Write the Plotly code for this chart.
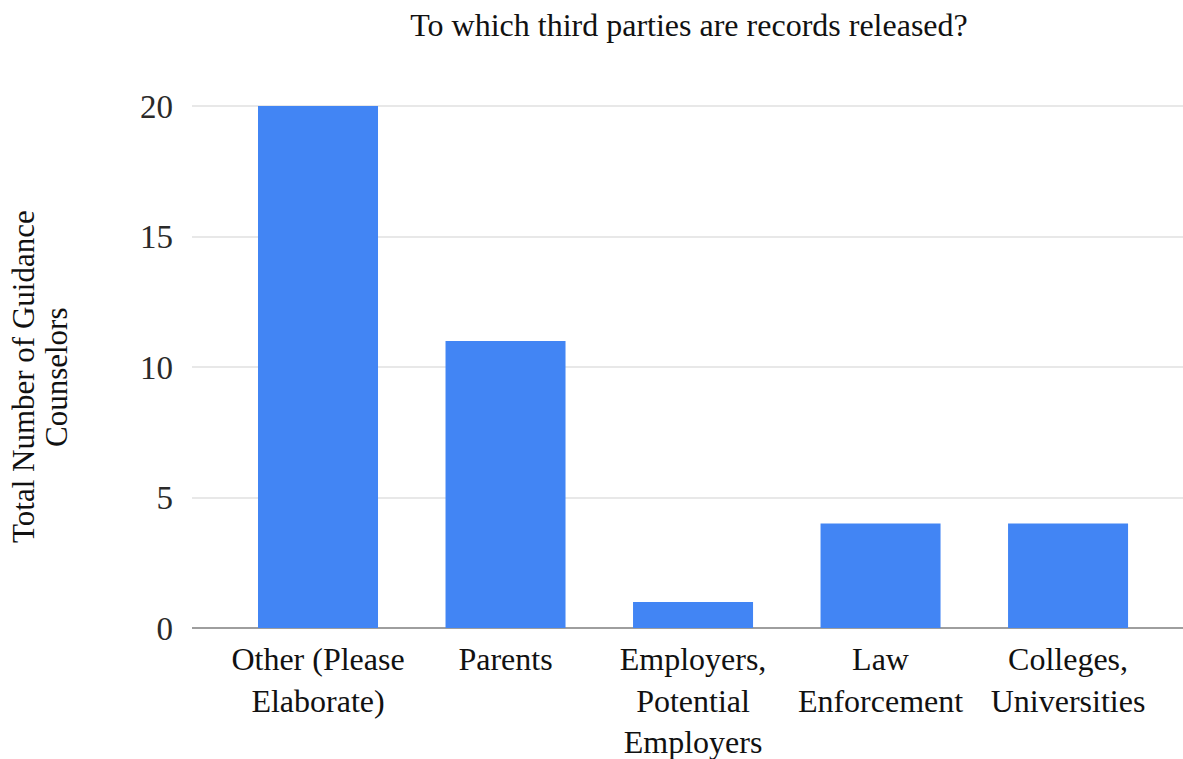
import plotly.graph_objects as go

# Survey responses: which third parties receive student records
categories = ["Other", "Parents", "Employers", "Law Enforcement", "Colleges"]
tick_labels = [
    "Other (Please<br>Elaborate)",
    "Parents",
    "Employers,<br>Potential<br>Employers",
    "Law<br>Enforcement",
    "Colleges,<br>Universities",
]
counselors = [20, 11, 1, 4, 4]
y_ticks = [0, 5, 10, 15, 20]

SERIF = "Liberation Serif"
W, H = 1183, 759
L, R, T, B = 192, 0, 105, 131
plot_w = W - L - R
plot_h = H - T - B


def px_x(p):
    return (p - L) / plot_w


def px_y(p):
    return (H - B - p) / plot_h


fig = go.Figure(
    go.Bar(
        x=categories,
        y=counselors,
        marker=dict(color="#4285F4", line=dict(width=0)),
        hoverinfo="x+y",
    )
)

fig.update_layout(
    width=W,
    height=H,
    margin=dict(l=L, r=R, t=T, b=B, pad=0),
    paper_bgcolor="white",
    plot_bgcolor="white",
    bargap=0.36,
    showlegend=False,
    font=dict(family=SERIF, size=32, color="#111111"),
    title=dict(
        text="To which third parties are records released?",
        x=689 / W,
        xanchor="center",
        xref="container",
        y=1 - 25 / H,
        yanchor="middle",
        yref="container",
        font=dict(family=SERIF, size=32, color="#111111"),
    ),
    xaxis=dict(
        range=[-0.672, 4.613],
        tickmode="array",
        tickvals=categories,
        ticktext=tick_labels,
        showgrid=False,
        showline=False,
        ticks="",
        ticklabelstandoff=9,
        tickfont=dict(family=SERIF, size=32, color="#111111"),
    ),
    yaxis=dict(
        range=[0, 20.04],
        tickmode="array",
        tickvals=y_ticks,
        showgrid=True,
        gridcolor="#e8e8e8",
        gridwidth=2,
        zeroline=True,
        zerolinecolor="#9e9e9e",
        zerolinewidth=2,
        showline=False,
        ticks="",
        ticklabelstandoff=18,
        tickfont=dict(family=SERIF, size=33, color="#2a2a2a"),
    ),
)

# Two-line vertical axis title
for text, cx in (("Total Number of Guidance", 23), ("Counselors", 56)):
    fig.add_annotation(
        text=text,
        xref="paper",
        yref="paper",
        x=px_x(cx),
        y=px_y(377),
        xanchor="center",
        yanchor="middle",
        textangle=-90,
        showarrow=False,
        font=dict(family=SERIF, size=31, color="#111111"),
    )

fig.write_html("out.html")
